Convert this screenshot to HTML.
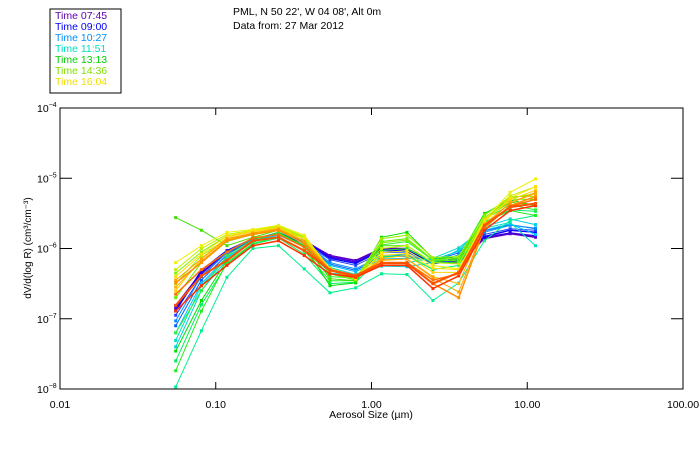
<!DOCTYPE html>
<html><head><meta charset="utf-8"><style>
body{margin:0;background:#fff;}
svg{display:block;font-family:"Liberation Sans",sans-serif;}
</style></head><body>
<svg id="chart" width="700" height="450">
<rect x="50" y="9" width="71" height="84" fill="none" stroke="#000" stroke-width="1"/>
<g font-size="10.5">
<text x="55" y="19" fill="#6000b0">Time 07:45</text>
<text x="55" y="30" fill="#0000ff">Time 09:00</text>
<text x="55" y="41" fill="#0090ff">Time 10:27</text>
<text x="55" y="52" fill="#00e0c0">Time 11:51</text>
<text x="55" y="63" fill="#00d000">Time 13:13</text>
<text x="55" y="74" fill="#80e000">Time 14:36</text>
<text x="55" y="85" fill="#f0e000">Time 16:04</text>
</g>
<text x="233" y="15" font-size="10.5">PML, N 50 22', W 04 08', Alt 0m</text>
<text x="233" y="29" font-size="10.5">Data from: 27 Mar 2012</text>
<g id="plot"></g>
<rect x="60" y="108" width="623" height="281" fill="none" stroke="#000" stroke-width="1"/>
<g id="axes" font-size="10.5"></g>
<text x="371" y="418" font-size="10.5" text-anchor="middle">Aerosol Size (µm)</text>
<text transform="translate(31,248) rotate(-90)" font-size="10" text-anchor="middle">dV/d(log R) (cm³/cm⁻³)</text>
</svg>
<script>
const sizes=[0.0553,0.0809,0.118,0.173,0.253,0.370,0.541,0.792,1.16,1.69,2.48,3.63,5.31,7.77,11.3];
const xTicks=[0.01,0.1,1,10,100];
const xTickLabels=["0.01","0.10","1.00","10.00","100.00"];
const yTickExps=[-8,-7,-6,-5,-4];
const seriesColors=["#6000c0","#1000ff","#0090ff","#00e0c0","#00f090","#00e000","#40e000","#20f020","#a0f000","#f0f000","#ffd000","#ff9000","#ff5000","#ff3000","#2040ff","#60f000","#ffb000","#00c0ff",
"#4000e0","#0060ff","#00d0e0","#00f060","#80f000","#c0f000","#ffe000","#ffa000","#ff7000","#30f030"];
const seriesWidths=[1.5,1.5,1,1,1,1,1,1,1,1,1,1.5,2,1.5,1,1,1,1,1.5,1,1,1,1,1,1,1,1.5,1];
const s0=[-6.81,-6.34,-6.06,-5.89,-5.80,-5.89,-6.10,-6.17,-6.00,-6.00,-6.20,-6.20,-5.86,-5.79,-5.84];
const s1=[-6.89,-6.31,-6.03,-5.86,-5.79,-5.89,-6.14,-6.21,-6.03,-6.03,-6.20,-6.14,-5.83,-5.74,-5.77];
const s2=[-7.03,-6.39,-6.06,-5.87,-5.77,-5.91,-6.20,-6.29,-6.10,-6.09,-6.20,-6.09,-5.77,-5.67,-5.71];
const s3=[-7.31,-6.53,-6.14,-5.89,-5.79,-5.96,-6.27,-6.37,-6.20,-6.20,-6.14,-5.99,-5.71,-5.63,-5.96];
const s4=[-7.97,-7.17,-6.41,-6.00,-5.96,-6.29,-6.63,-6.56,-6.36,-6.37,-6.74,-6.49,-5.89,-5.60,-5.53];
const s5=[-7.46,-6.74,-6.17,-5.89,-5.77,-5.96,-6.53,-6.49,-5.84,-5.77,-6.14,-6.13,-5.50,-5.31,-5.39];
const s6=[-5.56,-5.74,-5.96,-5.84,-5.74,-5.93,-6.43,-6.46,-5.96,-5.96,-6.20,-6.14,-5.57,-5.34,-5.39];
const s7=[-7.74,-6.89,-6.20,-5.93,-5.83,-6.03,-6.46,-6.46,-6.03,-6.00,-6.20,-6.20,-5.63,-5.46,-5.53];
const s8=[-6.50,-6.10,-5.86,-5.79,-5.71,-5.84,-6.31,-6.43,-5.86,-5.81,-6.13,-6.11,-5.53,-5.26,-5.26];
const s9=[-6.20,-5.96,-5.77,-5.73,-5.67,-5.81,-6.29,-6.43,-6.06,-6.03,-6.24,-6.29,-5.60,-5.20,-5.01];
const s10=[-6.60,-6.14,-5.84,-5.76,-5.71,-5.89,-6.29,-6.41,-6.14,-6.10,-6.34,-6.34,-5.60,-5.31,-5.17];
const s11=[-6.49,-6.20,-5.89,-5.80,-5.74,-5.93,-6.31,-6.41,-6.20,-6.20,-6.50,-6.70,-5.71,-5.39,-5.26];
const s12=[-6.81,-6.39,-6.17,-5.89,-5.84,-6.03,-6.31,-6.39,-6.21,-6.21,-6.50,-6.34,-5.67,-5.41,-5.36];
const s13=[-6.89,-6.53,-6.24,-5.96,-5.89,-6.10,-6.36,-6.41,-6.24,-6.24,-6.57,-6.39,-5.74,-5.46,-5.39];
const s14=[-6.95,-6.40,-6.06,-5.88,-5.80,-5.92,-6.16,-6.24,-6.06,-6.05,-6.22,-6.16,-5.80,-5.72,-5.74];
const s15=[-6.70,-6.20,-5.90,-5.80,-5.72,-5.86,-6.36,-6.45,-5.90,-5.86,-6.16,-6.18,-5.56,-5.30,-5.30];
const s16=[-6.55,-6.18,-5.88,-5.78,-5.73,-5.90,-6.30,-6.40,-6.17,-6.15,-6.40,-6.50,-5.65,-5.35,-5.22];
const s17=[-7.20,-6.50,-6.12,-5.90,-5.80,-5.95,-6.24,-6.33,-6.15,-6.14,-6.16,-6.04,-5.74,-5.65,-5.80];
const s18=[-6.85,-6.36,-6.04,-5.87,-5.80,-5.88,-6.12,-6.19,-6.02,-6.02,-6.21,-6.18,-5.84,-5.78,-5.82];
const s19=[-7.10,-6.45,-6.09,-5.88,-5.78,-5.93,-6.22,-6.31,-6.12,-6.11,-6.18,-6.06,-5.75,-5.66,-5.72];
const s20=[-7.40,-6.60,-6.16,-5.91,-5.81,-5.98,-6.35,-6.38,-6.25,-6.26,-6.20,-6.02,-5.69,-5.58,-5.66];
const s21=[-7.60,-6.80,-6.22,-5.94,-5.85,-6.08,-6.50,-6.48,-6.12,-6.10,-6.30,-6.24,-5.62,-5.45,-5.47];
const s22=[-6.35,-6.05,-5.82,-5.76,-5.69,-5.83,-6.35,-6.44,-5.92,-5.88,-6.16,-6.13,-5.52,-5.28,-5.22];
const s23=[-6.30,-6.00,-5.80,-5.74,-5.68,-5.83,-6.30,-6.42,-6.00,-5.96,-6.20,-6.22,-5.58,-5.25,-5.12];
const s24=[-6.40,-6.08,-5.82,-5.75,-5.70,-5.86,-6.28,-6.40,-6.10,-6.07,-6.28,-6.30,-5.62,-5.28,-5.12];
const s25=[-6.45,-6.15,-5.86,-5.78,-5.72,-5.90,-6.30,-6.40,-6.16,-6.15,-6.42,-6.62,-5.68,-5.35,-5.20];
const s26=[-6.65,-6.30,-6.05,-5.85,-5.80,-5.98,-6.30,-6.38,-6.20,-6.20,-6.45,-6.36,-5.68,-5.40,-5.30];
const s27=[-7.20,-6.60,-6.10,-5.88,-5.78,-5.98,-6.40,-6.42,-5.95,-5.90,-6.17,-6.16,-5.58,-5.38,-5.45];
const series=[s0,s1,s2,s3,s4,s5,s6,s7,s8,s9,s10,s11,s12,s13,s14,s15,s16,s17,s18,s19,s20,s21,s22,s23,s24,s25,s26,s27];
const NS="http://www.w3.org/2000/svg";
const X0=60,X1=683,Y0=389,Y1=108;
function xScale(v){return X0+(Math.log10(v)+2)/4*(X1-X0);}
function yScale(e){return Y0-(e+8)/4*(Y0-Y1);}
const plot=document.getElementById('plot');
const order=[0,18,1,14,19,2,17,20,3,4,21,5,7,27,6,15,8,22,23,9,10,24,16,25,11,13,26,12];
order.forEach(i=>{
  const data=series[i];
  const g=document.createElementNS(NS,'g');
  
  
  const pl=document.createElementNS(NS,'polyline');
  pl.setAttribute('points',data.map((e,k)=>xScale(sizes[k]).toFixed(1)+','+yScale(e).toFixed(1)).join(' '));
  pl.setAttribute('fill','none');
  pl.setAttribute('stroke',seriesColors[i]);
  pl.setAttribute('stroke-width',seriesWidths[i]);
  
  
  g.appendChild(pl);
  data.forEach((e,k)=>{
    const r=document.createElementNS(NS,'rect');
    r.setAttribute('x',xScale(sizes[k])-1.5);
    r.setAttribute('y',yScale(e)-1.5);
    r.setAttribute('width',3);r.setAttribute('height',3);
    r.setAttribute('fill',seriesColors[i]);
    
    
    g.appendChild(r);
  });
  plot.appendChild(g);
});
const axes=document.getElementById('axes');
function line(x1,y1,x2,y2,name){
  const l=document.createElementNS(NS,'line');
  l.setAttribute('x1',x1);l.setAttribute('y1',y1);l.setAttribute('x2',x2);l.setAttribute('y2',y2);
  l.setAttribute('stroke','#000');
  
  
  axes.appendChild(l);
}
xTicks.forEach((v,i)=>{
  const x=xScale(v);
  line(x,Y0,x,Y0-7,'x-tick');line(x,Y1,x,Y1+7,'x-tick-top');
  const t=document.createElementNS(NS,'text');
  t.setAttribute('x',x);t.setAttribute('y',408);t.setAttribute('text-anchor','middle');
  t.textContent=xTickLabels[i];
  
  
  axes.appendChild(t);
});
yTickExps.forEach(e=>{
  const y=yScale(e);
  line(X0,y,X0+12,y,'y-tick');line(X1,y,X1-12,y,'y-tick-right');
  const t=document.createElementNS(NS,'text');
  t.setAttribute('x',37);t.setAttribute('y',y+4);
  t.innerHTML='10<tspan dy="-5" font-size="7">'+(e<0?'−':'')+Math.abs(e)+'</tspan>';
  
  
  axes.appendChild(t);
});
</script>
</body></html>
